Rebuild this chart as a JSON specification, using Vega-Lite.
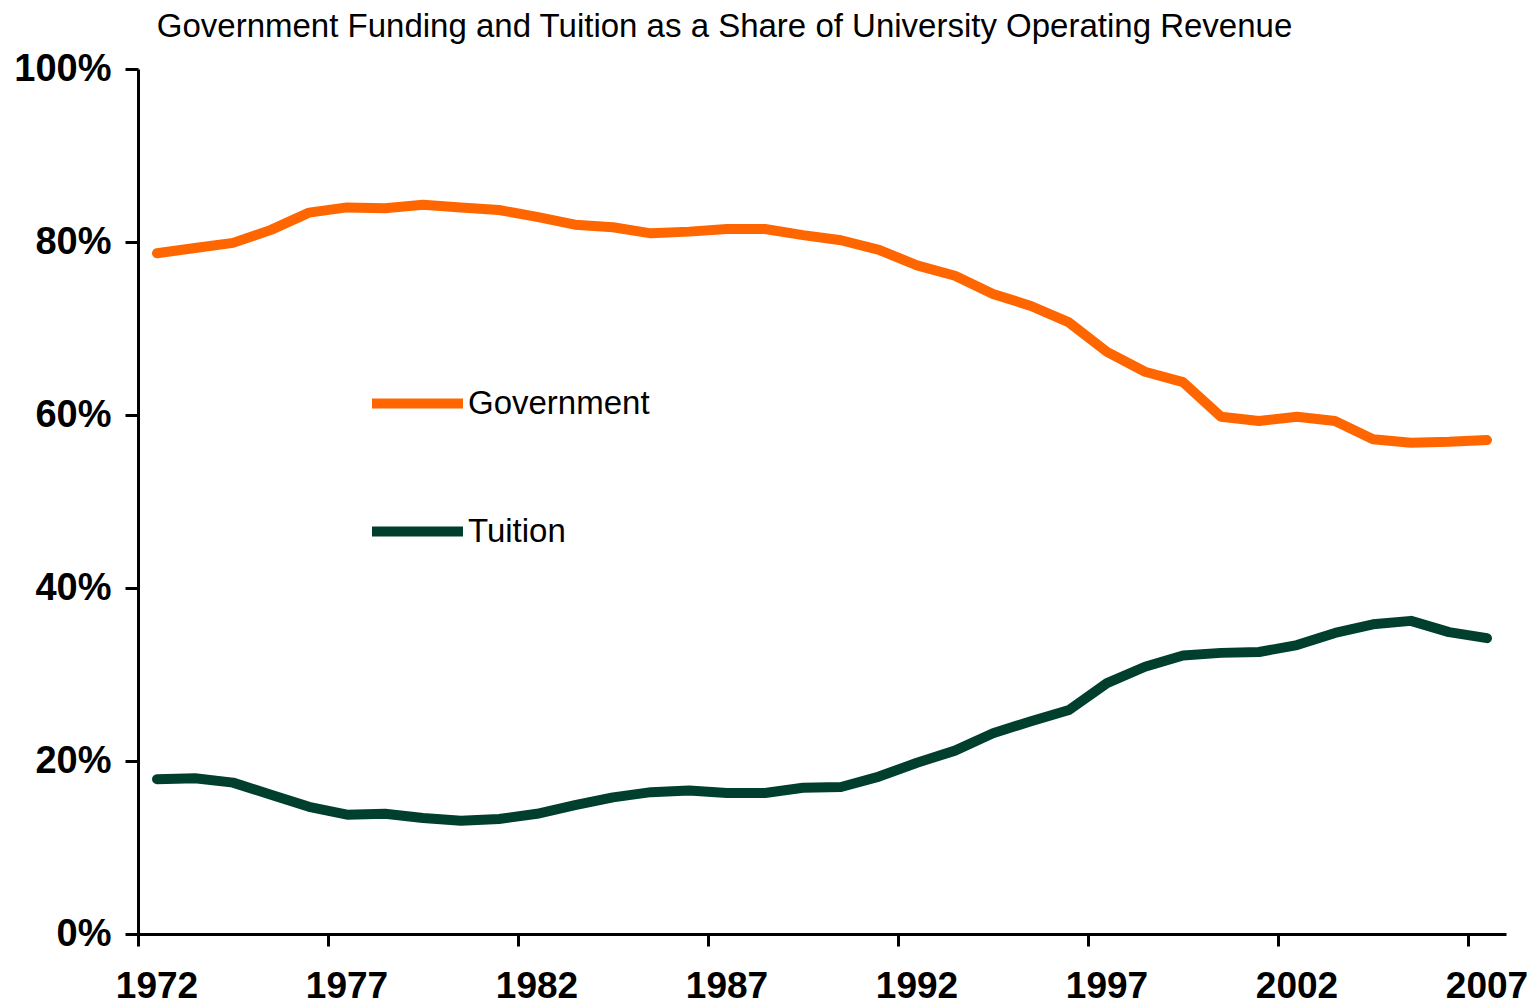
{
  "$schema": "https://vega.github.io/schema/vega-lite/v6.json",
  "autosize": "none",
  "width": 1368,
  "height": 865,
  "padding": {"left": 138, "top": 69, "right": 25, "bottom": 73},
  "background": "white",
  "title": {
    "text": "Government Funding and Tuition as a Share of University Operating Revenue",
    "anchor": "start",
    "dx": 143,
    "offset": 6,
    "font": "Liberation Sans",
    "fontSize": 33,
    "fontWeight": "normal",
    "color": "#000000"
  },
  "config": {
    "view": {"stroke": null},
    "font": "Liberation Sans"
  },
  "data": {
    "values": [
      {"year": 1972, "series": "Government", "share": 0.787},
      {"year": 1973, "series": "Government", "share": 0.793},
      {"year": 1974, "series": "Government", "share": 0.799},
      {"year": 1975, "series": "Government", "share": 0.814},
      {"year": 1976, "series": "Government", "share": 0.834},
      {"year": 1977, "series": "Government", "share": 0.840},
      {"year": 1978, "series": "Government", "share": 0.839},
      {"year": 1979, "series": "Government", "share": 0.843},
      {"year": 1980, "series": "Government", "share": 0.840},
      {"year": 1981, "series": "Government", "share": 0.837},
      {"year": 1982, "series": "Government", "share": 0.829},
      {"year": 1983, "series": "Government", "share": 0.820},
      {"year": 1984, "series": "Government", "share": 0.817},
      {"year": 1985, "series": "Government", "share": 0.810},
      {"year": 1986, "series": "Government", "share": 0.812},
      {"year": 1987, "series": "Government", "share": 0.815},
      {"year": 1988, "series": "Government", "share": 0.815},
      {"year": 1989, "series": "Government", "share": 0.808},
      {"year": 1990, "series": "Government", "share": 0.802},
      {"year": 1991, "series": "Government", "share": 0.791},
      {"year": 1992, "series": "Government", "share": 0.773},
      {"year": 1993, "series": "Government", "share": 0.761},
      {"year": 1994, "series": "Government", "share": 0.740},
      {"year": 1995, "series": "Government", "share": 0.726},
      {"year": 1996, "series": "Government", "share": 0.707},
      {"year": 1997, "series": "Government", "share": 0.673},
      {"year": 1998, "series": "Government", "share": 0.650},
      {"year": 1999, "series": "Government", "share": 0.638},
      {"year": 2000, "series": "Government", "share": 0.598},
      {"year": 2001, "series": "Government", "share": 0.593},
      {"year": 2002, "series": "Government", "share": 0.598},
      {"year": 2003, "series": "Government", "share": 0.593},
      {"year": 2004, "series": "Government", "share": 0.572},
      {"year": 2005, "series": "Government", "share": 0.568},
      {"year": 2006, "series": "Government", "share": 0.569},
      {"year": 2007, "series": "Government", "share": 0.571},
      {"year": 1972, "series": "Tuition", "share": 0.179},
      {"year": 1973, "series": "Tuition", "share": 0.180},
      {"year": 1974, "series": "Tuition", "share": 0.175},
      {"year": 1975, "series": "Tuition", "share": 0.161},
      {"year": 1976, "series": "Tuition", "share": 0.147},
      {"year": 1977, "series": "Tuition", "share": 0.138},
      {"year": 1978, "series": "Tuition", "share": 0.139},
      {"year": 1979, "series": "Tuition", "share": 0.134},
      {"year": 1980, "series": "Tuition", "share": 0.131},
      {"year": 1981, "series": "Tuition", "share": 0.133},
      {"year": 1982, "series": "Tuition", "share": 0.139},
      {"year": 1983, "series": "Tuition", "share": 0.149},
      {"year": 1984, "series": "Tuition", "share": 0.158},
      {"year": 1985, "series": "Tuition", "share": 0.164},
      {"year": 1986, "series": "Tuition", "share": 0.166},
      {"year": 1987, "series": "Tuition", "share": 0.163},
      {"year": 1988, "series": "Tuition", "share": 0.163},
      {"year": 1989, "series": "Tuition", "share": 0.169},
      {"year": 1990, "series": "Tuition", "share": 0.170},
      {"year": 1991, "series": "Tuition", "share": 0.182},
      {"year": 1992, "series": "Tuition", "share": 0.198},
      {"year": 1993, "series": "Tuition", "share": 0.212},
      {"year": 1994, "series": "Tuition", "share": 0.232},
      {"year": 1995, "series": "Tuition", "share": 0.246},
      {"year": 1996, "series": "Tuition", "share": 0.259},
      {"year": 1997, "series": "Tuition", "share": 0.290},
      {"year": 1998, "series": "Tuition", "share": 0.309},
      {"year": 1999, "series": "Tuition", "share": 0.322},
      {"year": 2000, "series": "Tuition", "share": 0.325},
      {"year": 2001, "series": "Tuition", "share": 0.326},
      {"year": 2002, "series": "Tuition", "share": 0.334},
      {"year": 2003, "series": "Tuition", "share": 0.348},
      {"year": 2004, "series": "Tuition", "share": 0.358},
      {"year": 2005, "series": "Tuition", "share": 0.362},
      {"year": 2006, "series": "Tuition", "share": 0.349},
      {"year": 2007, "series": "Tuition", "share": 0.342}
    ]
  },
  "mark": {"type": "line", "strokeWidth": 10, "strokeCap": "round", "strokeJoin": "round"},
  "encoding": {
    "x": {
      "field": "year",
      "type": "ordinal",
      "bandPosition": 0.5,
      "scale": {"type": "band", "paddingInner": 0, "paddingOuter": 0},
      "axis": {
        "title": null,
        "values": [1972, 1977, 1982, 1987, 1992, 1997, 2002, 2007],
        "bandPosition": 0,
        "labelAngle": 0,
        "labelFont": "Liberation Sans",
        "labelFontSize": 37,
        "labelFontWeight": "bold",
        "labelColor": "#000000",
        "labelPadding": 22,
        "domainColor": "#000000",
        "domainWidth": 3,
        "tickColor": "#000000",
        "tickWidth": 3,
        "tickSize": 12,
        "grid": false
      }
    },
    "y": {
      "field": "share",
      "type": "quantitative",
      "scale": {"domain": [0, 1], "nice": false, "zero": true},
      "axis": {
        "title": null,
        "values": [0, 0.2, 0.4, 0.6, 0.8, 1.0],
        "format": ".0%",
        "labelFont": "Liberation Sans",
        "labelFontSize": 38,
        "labelFontWeight": "bold",
        "labelColor": "#000000",
        "labelPadding": 14,
        "domainColor": "#000000",
        "domainWidth": 3,
        "tickColor": "#000000",
        "tickWidth": 3,
        "tickSize": 13,
        "grid": false
      }
    },
    "color": {
      "field": "series",
      "type": "nominal",
      "scale": {"domain": ["Government", "Tuition"], "range": ["#FF6600", "#003F2D"]},
      "legend": {
        "title": null,
        "orient": "none",
        "legendX": 229,
        "legendY": 284,
        "padding": 0,
        "symbolType": "stroke",
        "symbolSize": 8281,
        "symbolStrokeWidth": 10,
        "labelFont": "Liberation Sans",
        "labelFontSize": 33,
        "labelColor": "#000000",
        "labelOffset": 0,
        "labelLimit": 400,
        "rowPadding": 57
      }
    }
  }
}
